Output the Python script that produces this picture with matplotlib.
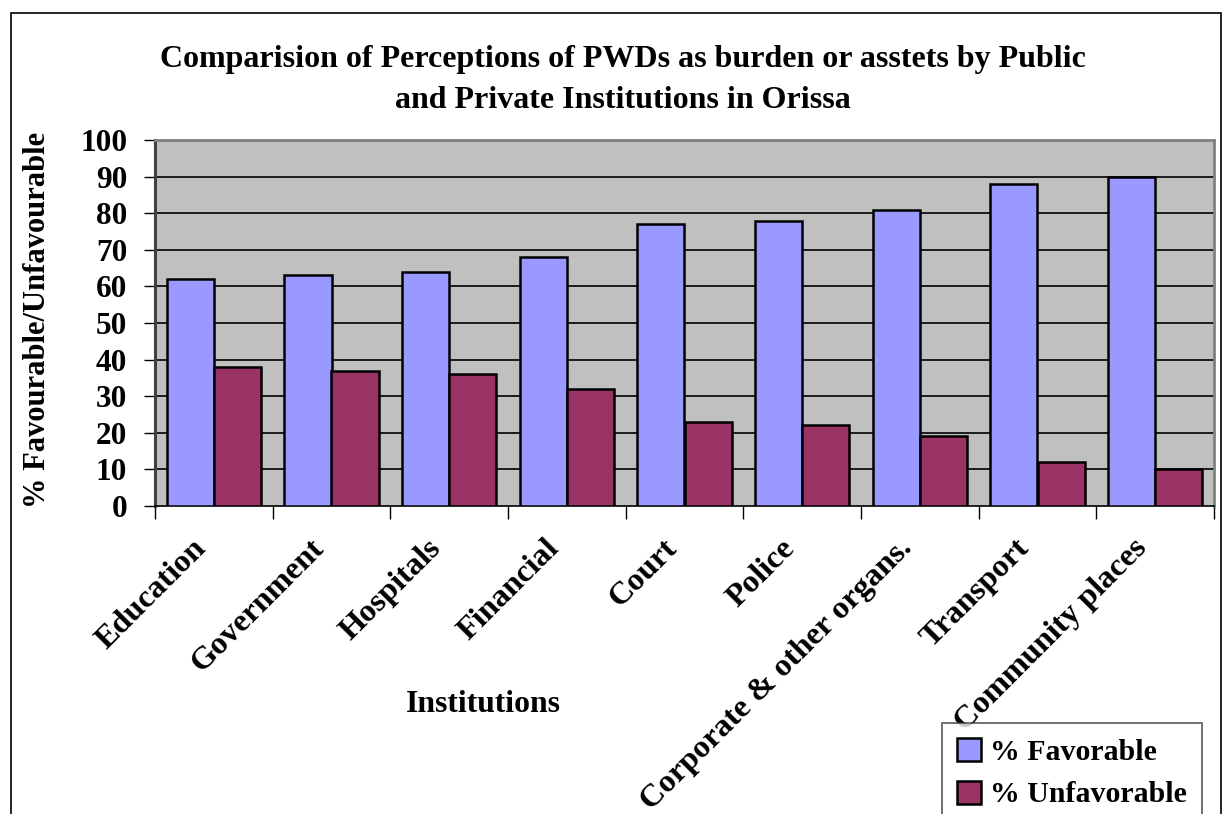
import matplotlib
matplotlib.use("Agg")
import matplotlib.pyplot as plt
from matplotlib.patches import Rectangle
import numpy as np

institutions = ["Education", "Government", "Hospitals", "Financial", "Court",
                "Police", "Corporate & other organs.", "Transport", "Community places"]
favorable = [62, 63, 64, 68, 77, 78, 81, 88, 90]
unfavorable = [38, 37, 36, 32, 23, 22, 19, 12, 10]
y_ticks = [0, 10, 20, 30, 40, 50, 60, 70, 80, 90, 100]

title = "Comparision of Perceptions of PWDs as burden or asstets by Public\nand Private Institutions in Orissa"

plt.rcParams["font.family"] = ["Liberation Serif", "DejaVu Serif"]
plt.rcParams["font.weight"] = "bold"

W, H = 1223, 814
fig = plt.figure(figsize=(W / 100, H / 100), dpi=100)
fig.patch.set_facecolor("white")

# outer chart frame (bottom edge runs off the page)
fig.patches.append(Rectangle((11 / W, -0.05), (1221 - 11) / W, 1 - 13 / H + 0.05,
                             transform=fig.transFigure, fill=False,
                             edgecolor="black", linewidth=1.2, zorder=0))

ax = fig.add_axes([155 / W, 1 - 506 / H, (1214 - 155) / W, (506 - 140) / H])
ax.set_facecolor("#C0C0C0")

x = np.arange(len(institutions))
bw = 0.4
ax.bar(x - bw / 2, favorable, width=bw, color="#9999FF", edgecolor="black",
       linewidth=1.8, label="% Favorable", zorder=3)
ax.bar(x + bw / 2, unfavorable, width=bw, color="#993366", edgecolor="black",
       linewidth=1.8, label="% Unfavorable", zorder=3)

ax.set_xlim(-0.5, len(institutions) - 0.5)
ax.set_ylim(0, 100)
ax.set_yticks(y_ticks)
ax.set_yticklabels([str(v) for v in y_ticks], fontsize=22.5, fontweight="bold")
ax.tick_params(axis="y", length=8, width=1, color="black", pad=12, direction="out")

for v in y_ticks[1:-1]:
    ax.axhline(v, color="black", linewidth=1.2, zorder=1)

# category boundary ticks below the axis
ax.set_xticks(np.arange(len(institutions) + 1) - 0.5)
ax.set_xticklabels([])
ax.tick_params(axis="x", length=9, width=1, color="black", direction="out")

for i, name in enumerate(institutions):
    ax.annotate(name, xy=(i, 0), xycoords=("data", "axes fraction"),
                xytext=(-16, -20), textcoords="offset points",
                rotation=45, ha="right", va="top", rotation_mode="anchor",
                fontsize=23.3, fontweight="bold")

ax.spines["left"].set_color("#404040")
ax.spines["left"].set_linewidth(2.2)
ax.spines["bottom"].set_color("black")
ax.spines["bottom"].set_linewidth(1.2)
ax.spines["top"].set_color("#808080")
ax.spines["top"].set_linewidth(2)
ax.spines["right"].set_color("#808080")
ax.spines["right"].set_linewidth(2)

fig.text(623 / W, 1 - 80 / H, title, ha="center", va="center",
         fontsize=23, fontweight="bold", linespacing=1.55)
fig.text(38 / W, 1 - 320 / H, "% Favourable/Unfavourable", rotation=90,
         ha="center", va="center", fontsize=22, fontweight="bold")
fig.text(483 / W, 1 - 705 / H, "Institutions", ha="center", va="center",
         fontsize=22.8, fontweight="bold")

leg = fig.legend(loc="upper left", bbox_to_anchor=(942 / W, 1 - 723 / H),
                 frameon=True, fancybox=False, edgecolor="#303030",
                 fontsize=21.5, handlelength=0.8, handleheight=0.8,
                 handletextpad=0.3, borderpad=0.5, labelspacing=0.5,
                 borderaxespad=0)
leg.get_frame().set_linewidth(1.2)
for t in leg.get_texts():
    t.set_fontweight("bold")

fig.savefig("out.png", dpi=100)
